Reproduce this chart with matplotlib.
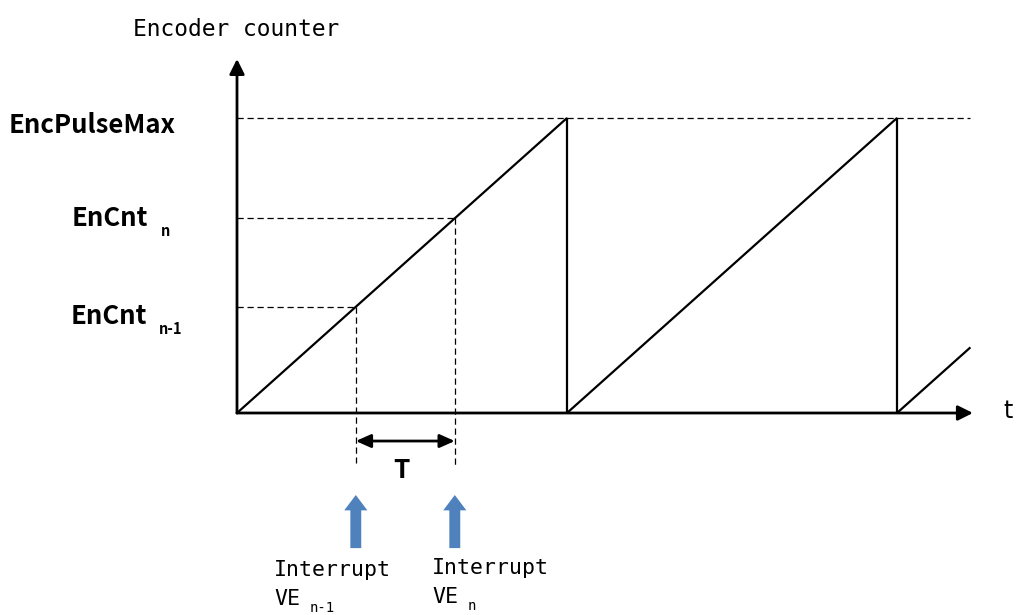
import numpy as np
import matplotlib
matplotlib.use("Agg")
import matplotlib.pyplot as plt
from matplotlib.patches import FancyArrow

# sawtooth of the encoder counter (time in periods, counter as fraction of EncPulseMax)
saw_t = [0.0, 1.0, 1.0, 2.0, 2.0, 2.22]
saw_c = [0.0, 1.0, 0.0, 1.0, 0.0, 0.22]
pulse_max = 1.0
sample_t = [0.36, 0.66]          # interrupt instants n-1, n
sample_c = [0.36, 0.66]          # counter read at those instants
t_axis_end = 2.22
c_axis_end = 1.19

W, H = 1016, 615
fig = plt.figure(figsize=(W / 100, H / 100), dpi=100)
ax = fig.add_axes([0, 0, 1, 1])
# 1 period = 330 px, full count = 295 px, origin at pixel (237, 413)
ax.set_xlim(-237 / 330, (W - 237) / 330)
ax.set_ylim((413 - H) / 295, 413 / 295)
ax.axis("off")

def px(x, y):
    return x / W, 1 - y / H

dash = (0, (5, 3))

# axes with arrow heads
head = "-|>,head_length=0.9,head_width=0.45"
ax.annotate("", xy=(0, c_axis_end + 0.01), xytext=(0, 0),
            arrowprops=dict(arrowstyle=head, lw=2, color="black", shrinkA=0, shrinkB=0))
ax.annotate("", xy=(t_axis_end + 0.01, 0), xytext=(0, 0),
            arrowprops=dict(arrowstyle=head, lw=2, color="black", shrinkA=0, shrinkB=0))

# EncPulseMax reference
ax.plot([0, t_axis_end], [pulse_max, pulse_max], color="black", lw=0.9, linestyle=dash)

# sawtooth
ax.plot(saw_t, saw_c, color="black", lw=1.6, solid_joinstyle="miter")

# sample guides
low = [-0.17, -0.187]
for t, c, lo in zip(sample_t, sample_c, low):
    ax.plot([0, t], [c, c], color="black", lw=0.9, linestyle=dash)
    ax.plot([t, t], [c, lo], color="black", lw=0.9, linestyle=dash)

# period T
ax.annotate("", xy=(sample_t[1], -0.095), xytext=(sample_t[0], -0.095),
            arrowprops=dict(arrowstyle="<|-|>,head_length=0.9,head_width=0.4", lw=2,
                            color="black", shrinkA=0, shrinkB=0))

# interrupt arrows (blue)
blue = "#4f81bd"
for t in sample_t:
    ax.add_patch(FancyArrow(t, -0.458, 0, 0.18, width=0.033, head_width=0.07,
                            head_length=0.052, length_includes_head=True, color=blue, lw=0))

# text
mono = ["DejaVu Sans Mono"]
bold = ["Noto Sans CJK JP", "DejaVu Sans"]

def label(x, y, s, sub, fam, size, subsize, gap, drop, **kw):
    txt = fig.text(*px(x, y), s, family=fam, fontsize=size, va="baseline", ha="left", **kw)
    fig.canvas.draw()
    ax.annotate(sub, xy=(1, 0), xycoords=txt, xytext=(gap, -drop), textcoords="offset pixels",
                family=fam, fontsize=subsize, va="baseline", ha="left", **kw)
    return txt

fig.text(*px(133, 36), "Encoder counter", family=mono, fontsize=16.5, va="baseline", ha="left")
fig.text(*px(9, 133), "EncPulseMax", family=bold, weight="bold", fontsize=18.5, va="baseline", ha="left")
label(72, 226, "EnCnt", "n", bold, 18.5, 10.5, 12, 4, weight="bold")
label(71, 324, "EnCnt", "n-1", bold, 18.5, 10.5, 12, 4, weight="bold")
fig.text(*px(401, 478), "T", family=bold, weight="bold", fontsize=19, va="baseline", ha="center")
fig.text(*px(1008, 418), "t", family=["DejaVu Sans"], fontsize=17, va="baseline", ha="center")

label(274, 576, "Interrupt", "", mono, 15.5, 10, 0, 0)
label(274, 605, "VE", "n-1", mono, 15.5, 10, 10, 3)
label(432, 574, "Interrupt", "", mono, 15.5, 10, 0, 0)
label(432, 603, "VE", "n", mono, 15.5, 10, 10, 3)

fig.savefig("out.png", dpi=100, facecolor="white")
